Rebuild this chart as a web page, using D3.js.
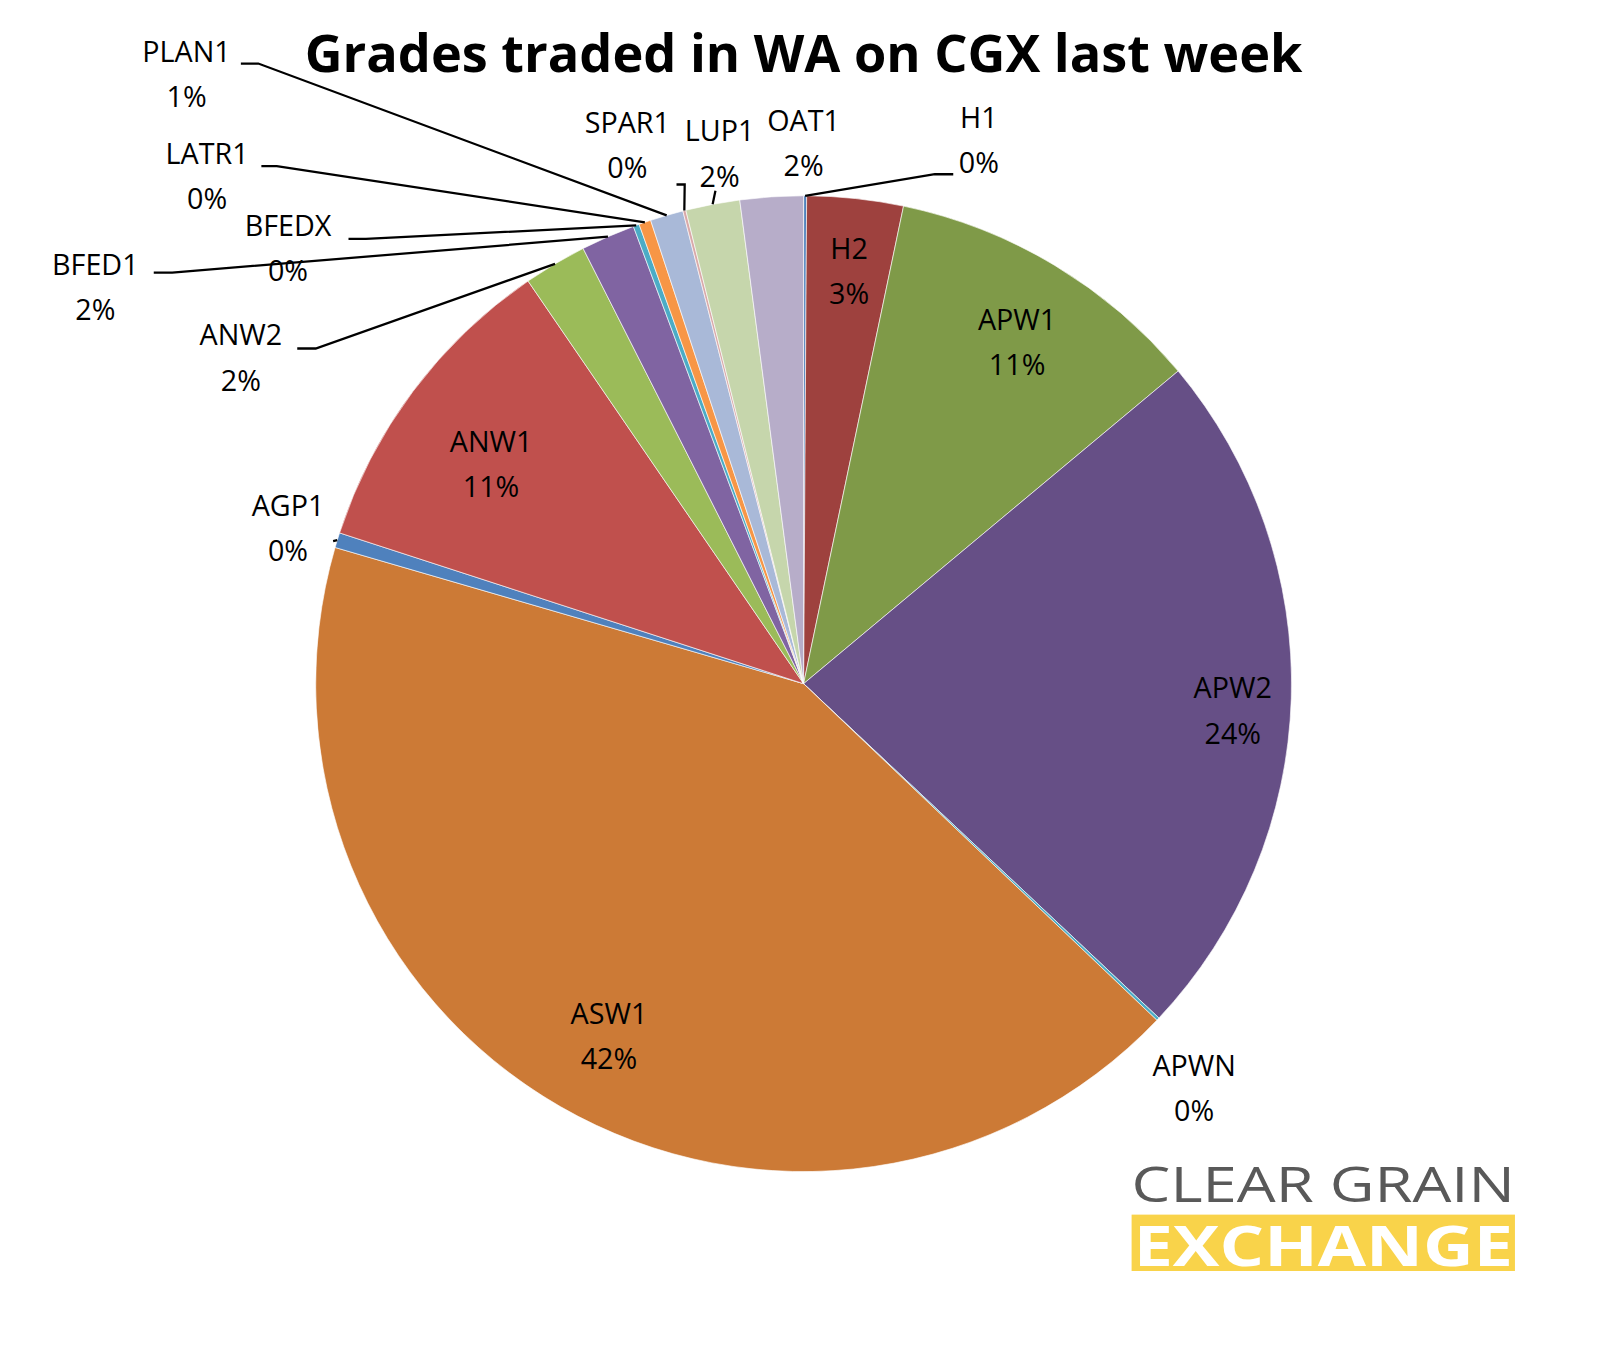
<!DOCTYPE html>
<html>
<head>
<meta charset="utf-8">
<script src="https://cdn.jsdelivr.net/npm/d3@7"></script>
<style>
  body { margin: 0; background: #fff; }
  text { font-family: "Open Sans", "Liberation Sans", sans-serif; }
</style>
</head>
<body>
<div id="chart"></div>
<script>
// grades in clockwise order from 12 o'clock
const grades = ['H1', 'H2', 'APW1', 'APW2', 'APWN', 'ASW1', 'AGP1', 'ANW1', 'ANW2',
                'BFED1', 'BFEDX', 'LATR1', 'PLAN1', 'SPAR1', 'LUP1', 'OAT1'];
const shares = [0.1, 3.2, 10.7, 23.2, 0.1, 42.6, 0.5, 10.5, 2.1, 1.8, 0.2, 0.4, 1.1, 0.1, 1.8, 2.1];
const pctLabels = ['0%', '3%', '11%', '24%', '0%', '42%', '0%', '11%', '2%', '2%', '0%', '0%', '1%', '0%', '2%', '2%'];
const colours = ['#4F81BD', '#9E413E', '#7F9A48', '#664F86', '#4BACC6', '#CC7A36', '#4F81BD', '#C0504D',
                 '#9BBB59', '#8064A2', '#4BACC6', '#F79646', '#A9B9D8', '#D9A9A9', '#C6D6AC', '#B7ADC9'];

const width = 1608, height = 1352;
const cx = 784, cy = 667, radius = 476;
const labelFont = '28px';

const svg = d3.select('#chart').append('svg')
    .attr('width', width)
    .attr('height', height);

const root = svg.append('g').attr('transform', 'scale(1.025)');

root.append('text')
    .attr('x', 784).attr('y', 70)
    .attr('text-anchor', 'middle')
    .style('font-size', '51px')
    .style('font-weight', 'bold')
    .text('Grades traded in WA on CGX last week');

const data = grades.map((g, i) => ({ grade: g, value: shares[i], pct: pctLabels[i], colour: colours[i] }));

const pie = d3.pie().sort(null).value(d => d.value);
const arc = d3.arc().innerRadius(0).outerRadius(radius);
const arcs = pie(data);

const g = root.append('g').attr('transform', 'translate(' + cx + ',' + cy + ')');

g.selectAll('path')
    .data(arcs)
    .enter().append('path')
        .attr('d', arc)
        .attr('fill', d => d.data.colour)
        .attr('stroke', '#fff')
        .attr('stroke-width', 0.6);

// inside labels (big slices)
const inner = { 'H2': 0.88, 'APW1': 0.85, 'APW2': 0.88, 'ASW1': 0.8, 'ANW1': 0.8 };
const labelArc = r => d3.arc().innerRadius(radius * r).outerRadius(radius * r);

arcs.filter(d => inner[d.data.grade]).forEach(d => {
    const [x, y] = labelArc(inner[d.data.grade]).centroid(d);
    const t = g.append('text').attr('text-anchor', 'middle').style('font-size', labelFont).attr('fill', '#000');
    t.append('tspan').attr('x', x).attr('y', y + 2).text(d.data.grade);
    t.append('tspan').attr('x', x).attr('y', y + 46).text(d.data.pct);
});

// outside labels: text centre and leader elbow (layout only)
const outside = {
    'H1':    { tx: 955, ty: 125, elbow: [[912, 170], [930, 170]] },
    'APWN':  { tx: 1165, ty: 1050, elbow: null },
    'AGP1':  { tx: 281, ty: 503, elbow: [[325, 528]] },
    'ANW2':  { tx: 235, ty: 337, elbow: [[308, 340], [290, 340]] },
    'BFED1': { tx: 93, ty: 268, elbow: [[168, 266], [150, 266]] },
    'BFEDX': { tx: 281, ty: 230, elbow: [[357, 233], [340, 233]] },
    'LATR1': { tx: 202, ty: 160, elbow: [[270, 162], [255, 162]] },
    'PLAN1': { tx: 182, ty: 60, elbow: [[252, 62], [235, 62]] },
    'SPAR1': { tx: 612, ty: 130, elbow: [[668, 180], [660, 180]] },
    'LUP1':  { tx: 702, ty: 138, elbow: [[698, 186]] },
    'OAT1':  { tx: 784, ty: 128, elbow: null }
};

arcs.filter(d => outside[d.data.grade]).forEach(d => {
    const o = outside[d.data.grade];
    const edge = labelArc(1.0).centroid(d);
    if (o.elbow) {
        const pts = [[cx + edge[0], cy + edge[1]]].concat(o.elbow);
        root.append('path')
            .attr('d', d3.line()(pts))
            .attr('fill', 'none')
            .attr('stroke', '#000')
            .attr('stroke-width', 2.2);
    }
    const t = root.append('text').attr('text-anchor', 'middle').style('font-size', labelFont).attr('fill', '#000');
    t.append('tspan').attr('x', o.tx).attr('y', o.ty).text(d.data.grade);
    t.append('tspan').attr('x', o.tx).attr('y', o.ty + 44).text(d.data.pct);
});

// logo
root.append('text')
    .attr('x', 1104).attr('y', 1173)
    .attr('textLength', 374).attr('lengthAdjust', 'spacingAndGlyphs')
    .style('font-size', '48px')
    .attr('fill', '#595959')
    .text('CLEAR GRAIN');
root.append('rect')
    .attr('x', 1104).attr('y', 1185)
    .attr('width', 374).attr('height', 55)
    .attr('fill', '#F9D34A');
root.append('text')
    .attr('x', 1106).attr('y', 1235)
    .attr('textLength', 370).attr('lengthAdjust', 'spacingAndGlyphs')
    .style('font-size', '54px')
    .style('font-weight', 'bold')
    .attr('fill', '#fff')
    .text('EXCHANGE');
</script>
</body>
</html>
